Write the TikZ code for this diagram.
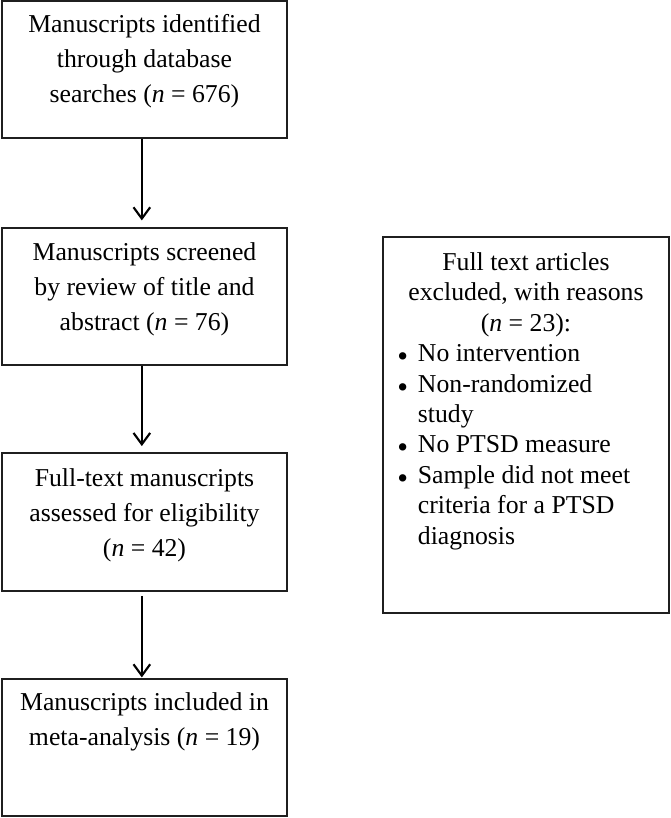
\documentclass[tikz,border=0pt]{standalone}
\usepackage{fontspec}
\setmainfont{Liberation Serif}
\usetikzlibrary{arrows.meta}
\newcommand{\bul}{\makebox[15.5pt][l]{\raisebox{-3.8pt}{\fontsize{23}{23}\selectfont\textbullet}}}
\newcommand{\nobul}{\hspace*{15.5pt}}
\tikzset{
  box/.style={draw=black!88, line width=1.4pt, inner sep=0pt, minimum width=213.75pt},
  lbl/.style={font=\fontsize{19.3}{25.9}\selectfont, align=center, anchor=base, inner sep=0pt},
  exlbl/.style={font=\fontsize{19.3}{22.8}\selectfont, inner sep=0pt},
  arr/.style={line width=1.6pt, draw=black, -{Straight Barb[length=8.5pt,width=12.5pt]}}
}
\begin{document}
\begin{tikzpicture}[x=0.75pt,y=-0.75pt]
\useasboundingbox (0,0) rectangle (671,818);
% left column boxes
\node[box, minimum height=102.75pt] (b1) at (144.5,69.5) {};
\node[box, minimum height=102.75pt] (b2) at (144.5,296.5) {};
\node[box, minimum height=103.5pt] (b3) at (144.5,522) {};
\node[box, minimum height=102.75pt] (b4) at (144.5,747.5) {};
% right box
\node[box, minimum width=214.5pt, minimum height=282pt] (ex) at (526,425) {};
% texts (anchored at the baseline of their last line)
\node[lbl] (t1) at (144.5,102) {Manuscripts identified\\through database\\searches (\textit{n} = 676)};
\node[lbl] (t2) at (144.5,330) {Manuscripts screened\\by review of title and\\abstract (\textit{n} = 76)};
\node[lbl] (t3) at (144.5,556) {Full-text manuscripts\\assessed for eligibility\\(\textit{n} = 42)};
\node[lbl] (t4) at (144.5,745) {Manuscripts included in\\meta-analysis (\textit{n} = 19)};
\node[exlbl, align=center, anchor=base] (exh) at (526,331) {Full text articles\\excluded, with reasons\\(\textit{n} = 23):};
\node[exlbl, align=left, anchor=base west] (exl) at (397,544) {%
\bul No intervention\\
\bul Non-randomized\\
\nobul study\\
\bul No PTSD measure\\
\bul Sample did not meet\\
\nobul criteria for a PTSD\\
\nobul diagnosis};
% arrows
\draw[arr] ([xshift=-2pt]b1.south) -- ([xshift=-2pt,yshift=5pt]b2.north);
\draw[arr] ([xshift=-2pt]b2.south) -- ([xshift=-2pt,yshift=4.5pt]b3.north);
\draw[arr] ([xshift=-2pt,yshift=-3pt]b3.south) -- ([xshift=-2pt,yshift=0.5pt]b4.north);
\end{tikzpicture}
\end{document}
